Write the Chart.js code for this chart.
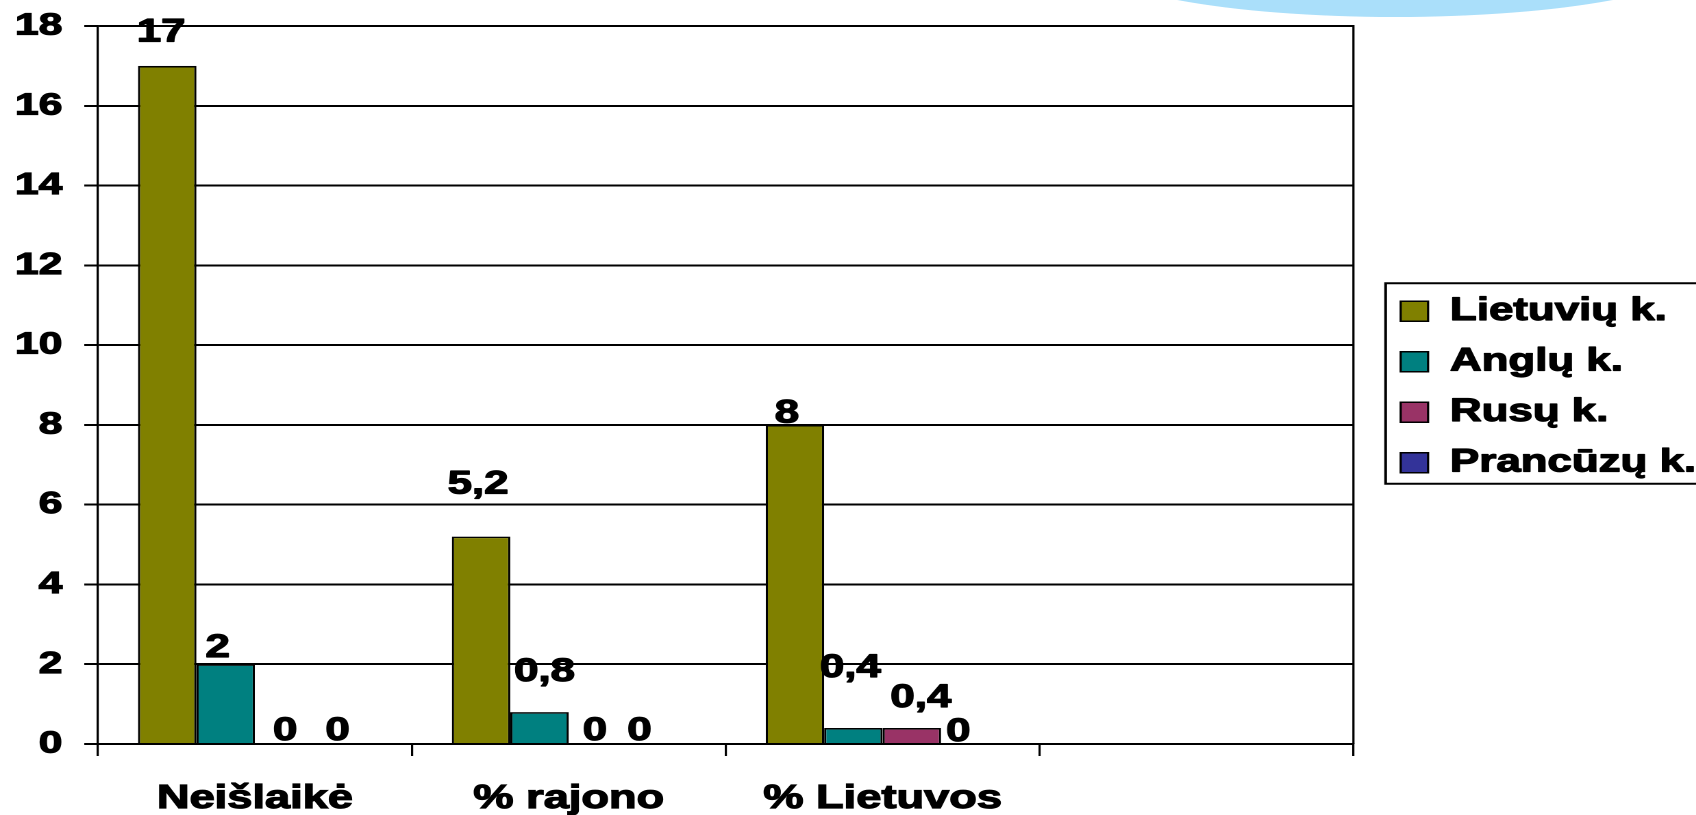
<!DOCTYPE html>
<html><head><meta charset="utf-8">
<script src="https://cdn.jsdelivr.net/npm/chart.js@4/dist/chart.umd.min.js"></script>
<style>
html,body{margin:0;padding:0;background:#fff;overflow:hidden;width:1696px;height:815px}
#wrap{position:absolute;left:0;top:0;width:1238px;height:815px;transform:scaleX(1.37);transform-origin:0 0}
</style></head><body>
<div id="wrap"><canvas id="c"></canvas></div>
<script>
// ---- data ----
const categories = ['Neišlaikė', '% rajono', '% Lietuvos', ''];
const seriesNames = ['Lietuvių k.', 'Anglų k.', 'Rusų k.', 'Prancūzų k.'];
const lietuviu = [17, 5.2, 8, null];
const anglu = [2, 0.8, 0.4, null];
const rusu = [0, 0, 0.4, null];
const prancuzu = [0, 0, 0, null];
const yTicks = [0, 2, 4, 6, 8, 10, 12, 14, 16, 18];

// ---- styling ----
const S = 1.37; // horizontal stretch of the original picture
const FONT = '"Liberation Sans", Arial, sans-serif';
const STROKE = 1.2; // extra text weight
const colors = ['#808000', '#008080', '#993366', '#333399'];
// label nudges [dx, dy] in picture pixels (hand-placed labels in the original)
const labelShift = [
  [[-6, 33], [-3, 52], [-8, 11], null],
  [[-8, 16], [5, 40], [-3, 60], null],
  [[1, 13], [-3, 13], [9, 30], null],
  [[-5, 13], [-17, 13], [-12, 12], null]
];
const LEGEND_SHIFT = 16;
const LEGEND_PAD = 18.5;
const LEGEND_FONT = 32;
const LEGEND_BOX = 20;

const seriesValues = [lietuviu, anglu, rusu, prancuzu];

const valueLabels = {
  id: 'valueLabels',
  afterDatasetsDraw(chart) {
    const ctx = chart.ctx;
    ctx.save();
    ctx.font = 'bold 32px ' + FONT;
    ctx.fillStyle = '#000';
    ctx.strokeStyle = '#000';
    ctx.lineWidth = STROKE;
    ctx.lineJoin = 'round';
    ctx.textAlign = 'center';
    ctx.textBaseline = 'middle';
    chart.data.datasets.forEach((ds, i) => {
      const meta = chart.getDatasetMeta(i);
      meta.data.forEach((bar, j) => {
        const v = ds.data[j];
        if (v === null || v === undefined) return;
        const sh = labelShift[i][j] || [0, 14];
        const t = String(v).replace('.', ',');
        const x = bar.x + sh[0] / S, y = bar.y - sh[1];
        ctx.strokeText(t, x, y);
        ctx.fillText(t, x, y);
      });
    });
    ctx.restore();
  }
};

const frame = {
  id: 'frame',
  afterLayout(chart) {
    if (chart.legend) {
      chart.legend.left += LEGEND_SHIFT;
      chart.legend.right += LEGEND_SHIFT;
      chart.legend.top += 2;
      chart.legend.bottom += 2;
    }
  },
  beforeDraw(chart) {
    const ctx = chart.ctx;
    ctx.save();
    ctx.fillStyle = '#aadffa';
    ctx.beginPath();
    ctx.ellipse(1395 / S, -40, 306 / S, 57, 0, 0, Math.PI * 2);
    ctx.fill();
    ctx.restore();
  },
  afterDraw(chart) {
    const ctx = chart.ctx;
    const a = chart.chartArea;
    ctx.save();
    ctx.strokeStyle = '#000';
    ctx.lineWidth = 1.6;
    ctx.beginPath();
    ctx.moveTo(a.right, a.top - 1);
    ctx.lineTo(a.right, a.bottom);
    ctx.stroke();
    const lg = chart.legend;
    const hb = lg && lg.legendHitBoxes;
    if (hb && hb.length) {
      const first = hb[0], last = hb[hb.length - 1];
      const top = first.top + first.height / 2 - 28;
      const bottom = last.top + last.height / 2 + 21;
      const left = lg.left + LEGEND_PAD - 11;
      ctx.lineWidth = 2;
      ctx.strokeRect(left, top, chart.width - left + 10, bottom - top);
      // heavier legend text (re-stroke the library's own labels)
      ctx.font = 'bold ' + LEGEND_FONT + 'px ' + FONT;
      ctx.lineWidth = STROKE;
      ctx.lineJoin = 'round';
      ctx.textAlign = 'left';
      ctx.textBaseline = 'middle';
      lg.legendItems.forEach((item, k) => {
        const h = hb[k];
        ctx.strokeText(item.text, h.left + LEGEND_BOX + LEGEND_FONT / 2, h.top + h.height / 2);
      });
    }
    ctx.restore();
  }
};

Chart.defaults.font.family = FONT;
Chart.defaults.font.weight = 'bold';
Chart.defaults.color = '#000';

new Chart(document.getElementById('c'), {
  type: 'bar',
  data: {
    labels: categories,
    datasets: seriesNames.map((name, i) => ({
      label: name,
      data: seriesValues[i],
      backgroundColor: colors[i],
      borderColor: '#000',
      borderWidth: 1.6,
      borderSkipped: 'bottom',
      categoryPercentage: 0.745,
      barPercentage: 1
    }))
  },
  options: {
    responsive: true,
    maintainAspectRatio: false,
    animation: false,
    devicePixelRatio: 2,
    layout: { padding: { top: 26, left: 0, right: 6, bottom: 0 } },
    plugins: {
      tooltip: { enabled: false },
      legend: {
        position: 'right',
        align: 'center',
        fullSize: false,
        labels: {
          boxWidth: LEGEND_BOX,
          boxHeight: LEGEND_BOX,
          padding: LEGEND_PAD,
          color: '#000',
          font: { size: LEGEND_FONT, weight: 'bold', family: FONT }
        }
      }
    },
    scales: {
      x: {
        type: 'category',
        offset: true,
        afterFit(scale) { scale.height = 71; },
        grid: {
          offset: true,
          drawOnChartArea: false,
          drawTicks: true,
          tickLength: 12,
          color: '#000',
          lineWidth: 1.6
        },
        border: { display: true, color: '#000', width: 2 },
        ticks: {
          padding: 23,
          maxRotation: 0,
          autoSkip: false,
          textStrokeColor: '#000',
          textStrokeWidth: STROKE,
          font: { size: 33, weight: 'bold', family: FONT },
          color: '#000'
        }
      },
      y: {
        min: yTicks[0],
        max: yTicks[yTicks.length - 1],
        afterBuildTicks(scale) { scale.ticks = yTicks.map(v => ({ value: v })); },
        afterFit(scale) {
          scale.width = 71.5;
          scale.paddingTop = 0;
          scale.paddingBottom = 0;
        },
        grid: {
          color: '#000',
          lineWidth: 2,
          tickLength: 10,
          drawTicks: true
        },
        border: { display: true, color: '#000', width: 1.6 },
        ticks: {
          padding: 16,
          textStrokeColor: '#000',
          textStrokeWidth: STROKE,
          font: { size: 31, weight: 'bold', family: FONT },
          color: '#000'
        }
      }
    }
  },
  plugins: [valueLabels, frame]
});
</script>
</body></html>
